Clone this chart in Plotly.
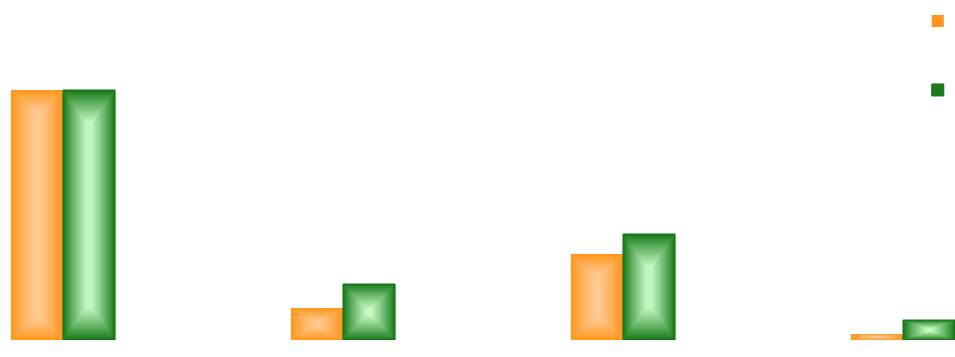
import plotly.graph_objects as go

# Series values (one entry per group)
group_index = [0, 1, 2, 3]
orange_values = [100, 12.8, 34.4, 2.4]
green_values = [100, 22.4, 42.4, 8.0]

# Series styling: edge colour, centre highlight colour, outline, vertical fade factor
series = [
    {"name": " ", "values": orange_values, "offset": -0.093,
     "edge": (255, 150, 28), "center": (255, 204, 152), "line": "rgba(0,0,0,0)",
     "group": "a", "vfade": 0.9},
    {"name": " ", "values": green_values, "offset": 0.093,
     "edge": (26, 124, 26), "center": (205, 255, 205), "line": "#197019",
     "group": "b", "vfade": 1.4},
]

W, H = 955, 357
PLOT_H = 340
Y_MAX = 136.0
PX_X = 280.0            # pixels per x unit
X_RANGE = [-63 / PX_X, (W - 63) / PX_X]
BAR_W = 0.186
PX_Y = PLOT_H / Y_MAX   # pixels per y unit
LAYERS = 14


def mix(c0, c1, f):
    return "rgb({},{},{})".format(*[round(a + (b - a) * f) for a, b in zip(c0, c1)])


fig = go.Figure()

for s in series:
    xs = [g + s["offset"] for g in group_index]
    # base bar with full extent (edge colour) – this one carries the legend
    fig.add_trace(go.Bar(
        x=xs, y=s["values"], width=BAR_W, name=s["name"],
        legendgroup=s["group"], showlegend=True,
        marker=dict(color=mix(s["edge"], s["center"], 0.0),
                    line=dict(color=s["line"], width=1)),
        hoverinfo="skip",
    ))
    # inner layers build a soft box-shaped highlight towards the centre
    for k in range(1, LAYERS):
        t = k / LAYERS
        inset_px = t * 24.0
        widths, bases, heights = [], [], []
        for v in s["values"]:
            h_px = v * PX_Y
            iy_px = min(inset_px * s["vfade"], t * h_px * 0.45)
            iy = iy_px / PX_Y
            widths.append(BAR_W - 2 * inset_px / PX_X)
            bases.append(iy)
            heights.append(max(v - 2 * iy, 0))
        fig.add_trace(go.Bar(
            x=xs, y=heights, base=bases, width=widths,
            legendgroup=s["group"], showlegend=False,
            marker=dict(color=mix(s["edge"], s["center"], t ** 0.9), line=dict(width=0)),
            hoverinfo="skip",
        ))

fig.update_layout(
    width=W, height=H,
    margin=dict(l=0, r=0, t=0, b=H - PLOT_H, autoexpand=False),
    barmode="overlay",
    plot_bgcolor="white", paper_bgcolor="white",
    xaxis=dict(range=X_RANGE, visible=False),
    yaxis=dict(range=[0, Y_MAX], visible=False),
    legend=dict(x=0.961, y=0.981, xanchor="left", yanchor="top",
                traceorder="grouped", tracegroupgap=50,
                bgcolor="rgba(0,0,0,0)", font=dict(size=12)),
    showlegend=True,
)

fig.write_html("out.html")
